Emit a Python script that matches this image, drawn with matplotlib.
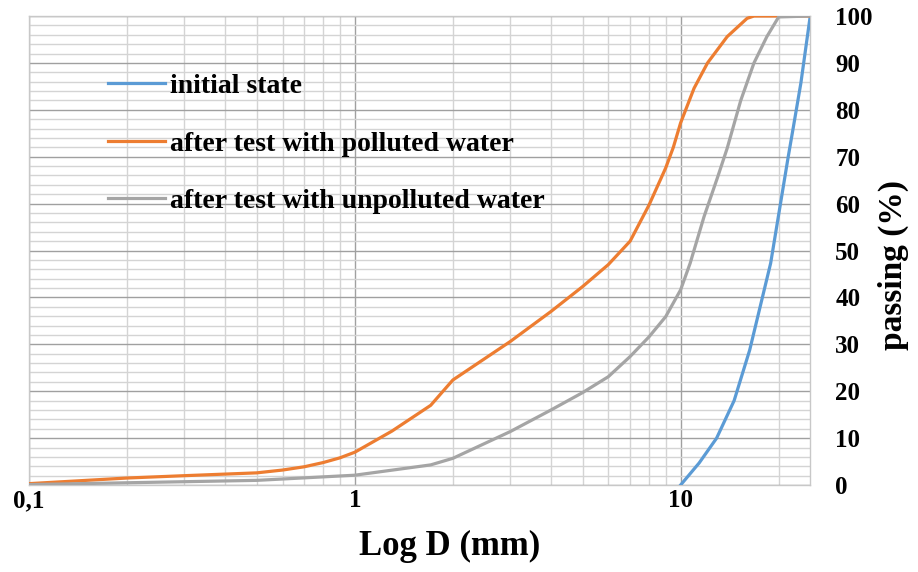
import numpy as np
import matplotlib.pyplot as plt
from matplotlib.ticker import FixedLocator, NullFormatter

# grain size (mm) and passing (%)
d_initial = [10, 11.4, 12.9, 14.6, 16.3, 18.9, 21.4, 22.2, 23.4, 25]
p_initial = [0, 4.7, 10, 18, 28.8, 47.3, 70, 76.4, 85.7, 100]

d_polluted = [0.1, 0.2, 0.3, 0.5, 0.6, 0.7, 0.8, 0.9, 1.0, 1.3, 1.71, 1.92,
              2, 3, 4, 5, 6, 7, 8, 9, 9.5, 10, 11, 12.1, 13.9, 16.0, 16.8, 25]
p_polluted = [0.3, 1.5, 2.0, 2.6, 3.2, 3.9, 4.8, 5.8, 7.0, 11.5, 17, 21,
              22.4, 30.6, 37, 42.3, 47, 52, 59.7, 67.6, 72, 77.2, 84.6, 90, 95.6, 99.5, 100, 100]

d_unpolluted = [0.1, 0.5, 1.0, 1.71, 2, 3, 4, 5, 6, 7, 8, 9, 10, 10.7, 11.8,
                13.0, 13.9, 15.3, 16.8, 18.4, 20, 25]
p_unpolluted = [0.1, 1.0, 2.1, 4.3, 5.7, 11.4, 16, 19.7, 23.1, 27.4, 31.6, 35.9, 41.6, 47.3, 57.2,
                65.7, 71.8, 82, 90, 95.6, 99.8, 100]

x_ticks = [0.1, 1, 10]
x_ticklabels = ['0,1', '1', '10']
y_ticks = np.arange(0, 101, 10)

BLUE = '#5B9BD5'
ORANGE = '#ED7D31'
GRAY = '#A5A5A5'

plt.rcParams['font.family'] = ['Liberation Serif', 'DejaVu Serif']
plt.rcParams['font.weight'] = 'bold'

fig = plt.figure(figsize=(9.18, 5.72), dpi=100)
ax = fig.add_axes([0.0316, 0.152, 0.851, 0.820])

ax.plot(d_initial, p_initial, color=BLUE, lw=2.3, label='initial state', zorder=3)
ax.plot(d_polluted, p_polluted, color=ORANGE, lw=2.3,
        label='after test with polluted water', zorder=3)
ax.plot(d_unpolluted, p_unpolluted, color=GRAY, lw=2.3,
        label='after test with unpolluted water', zorder=3)

ax.set_xscale('log')
ax.set_xlim(0.1, 25)
ax.set_ylim(0, 100)

# x grid: decades dark, 2..9 light
ax.xaxis.set_major_locator(FixedLocator(x_ticks))
ax.set_xticklabels(x_ticklabels)
minor_x = [m * 10.0 ** e for e in (-1, 0, 1) for m in range(2, 10) if m * 10.0 ** e < 25]
ax.xaxis.set_minor_locator(FixedLocator(minor_x))
ax.xaxis.set_minor_formatter(NullFormatter())

# y grid: tens dark, every 2 light
ax.yaxis.set_major_locator(FixedLocator(y_ticks))
ax.yaxis.set_minor_locator(FixedLocator([v for v in range(0, 101, 2) if v % 10]))
ax.yaxis.tick_right()
ax.yaxis.set_label_position('right')

ax.grid(which='major', color='#a0a0a0', lw=1.0)
ax.grid(which='minor', color='#d4d4d4', lw=1.0)
ax.set_axisbelow(True)

ax.tick_params(which='both', length=0)
ax.tick_params(axis='x', labelsize=18, pad=3)
ax.tick_params(axis='y', labelsize=18, pad=18)
for lbl in ax.get_yticklabels():
    lbl.set_horizontalalignment('left')

for s in ax.spines.values():
    s.set_color('#c8c8c8')
    s.set_linewidth(1.0)

ax.set_xlabel('Log D (mm)', fontsize=25, fontweight='bold', va='center')
ax.xaxis.set_label_coords(0.539, -0.132)
ax.set_ylabel('passing (%)', fontsize=24, fontweight='bold', rotation=90, va='center')
ax.yaxis.set_label_coords(1.106, 0.469)

leg = ax.legend(loc='upper left', bbox_to_anchor=(0.101, 0.877), frameon=False,
                fontsize=20, handlelength=2.05, handletextpad=0.18, labelspacing=1.15,
                borderpad=0, borderaxespad=0)

fig.savefig('out.png', dpi=100)
